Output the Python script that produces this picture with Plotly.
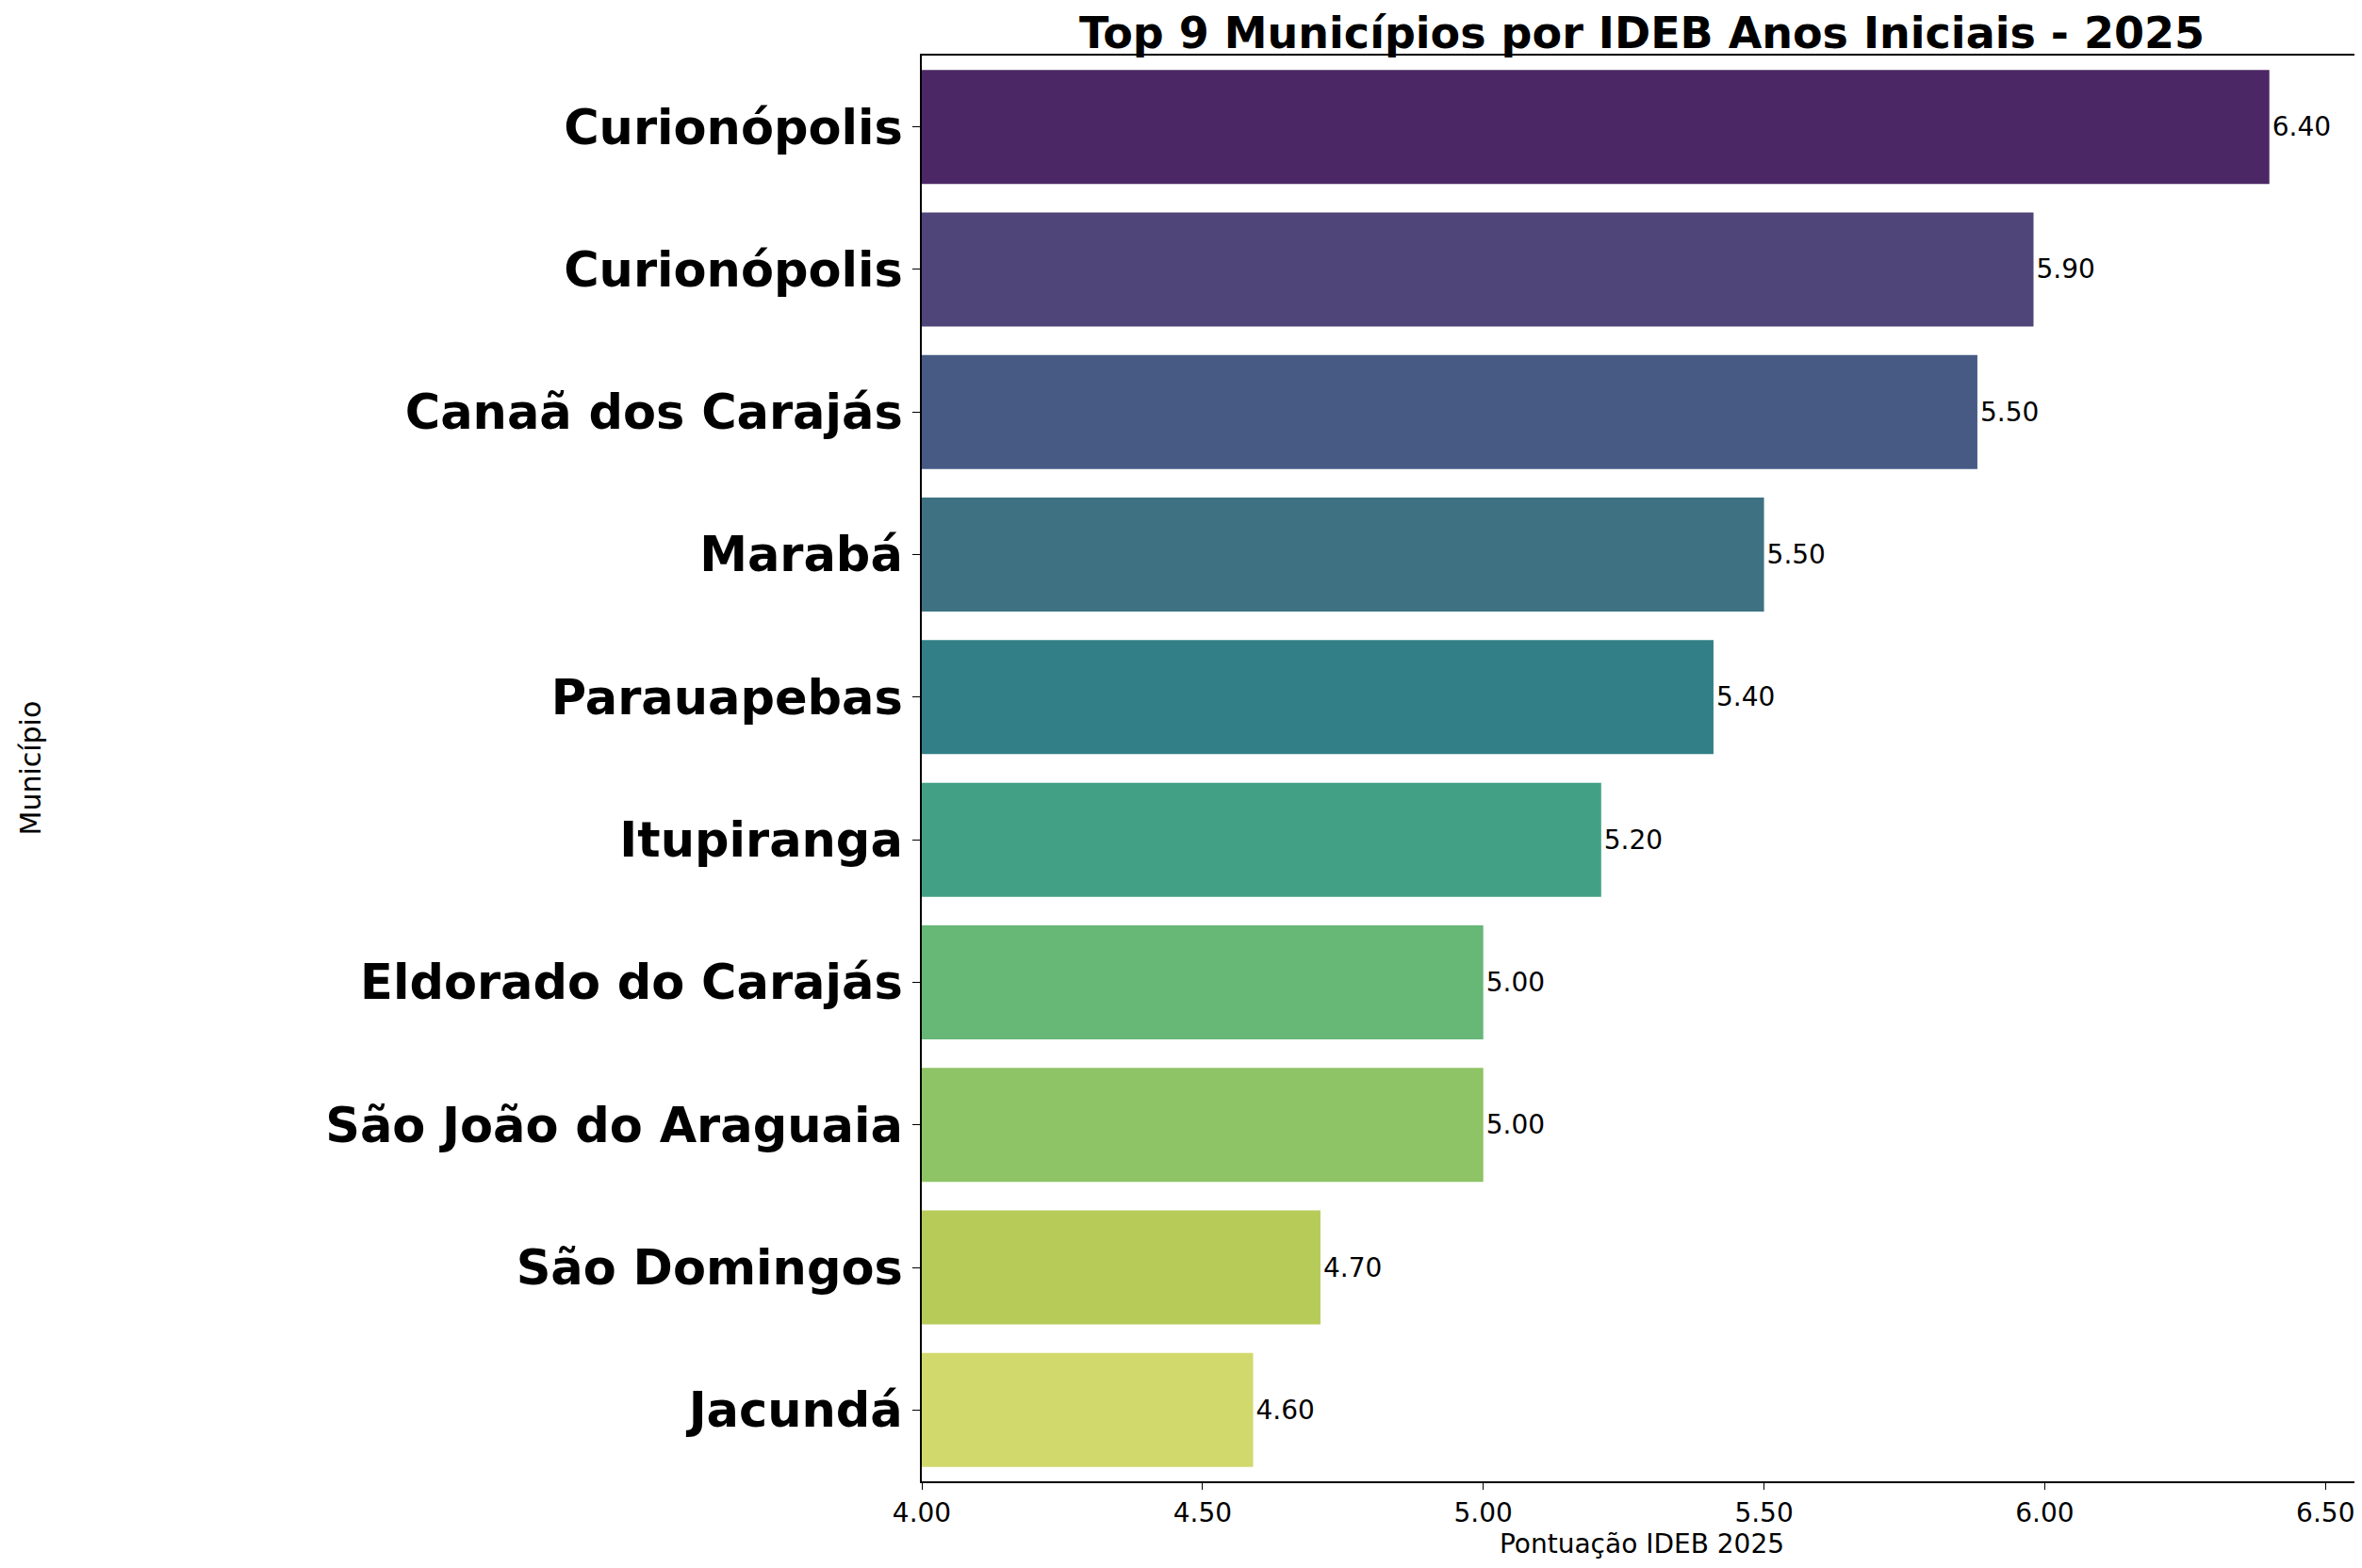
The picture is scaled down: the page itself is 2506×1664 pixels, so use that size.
import plotly.graph_objects as go

# data (top to bottom)
municipios = ['Curionópolis', 'Curionópolis', 'Canaã dos Carajás', 'Marabá',
              'Parauapebas', 'Itupiranga', 'Eldorado do Carajás',
              'São João do Araguaia', 'São Domingos', 'Jacundá']
ideb = [6.40, 5.98, 5.88, 5.50, 5.41, 5.21, 5.00, 5.00, 4.71, 4.59]
rotulos = ['6.40', '5.90', '5.50', '5.50', '5.40', '5.20', '5.00', '5.00', '4.70', '4.60']
cores = ['#4b2865', '#4f4579', '#465a84', '#3e7283', '#327f87',
         '#42a184', '#67b776', '#8ec366', '#b6cb58', '#d1d96c']

# the name repeats, so bars sit on positions and names go in as tick text
posicoes = list(range(len(municipios)))

# page body has an 8px margin, so the figure is a bit smaller than the window
W, H = 2498, 1648

fig = go.Figure(go.Bar(
    x=ideb,
    y=posicoes,
    orientation='h',
    width=0.8,
    marker=dict(color=cores, line=dict(width=0)),
    text=rotulos,
    textposition='outside',
    textfont=dict(family='DejaVu Sans', size=28, color='black'),
    cliponaxis=False,
    constraintext='none',
))

fig.update_layout(
    width=W, height=H,
    margin=dict(l=970, r=0, t=51, b=84),
    paper_bgcolor='white', plot_bgcolor='white',
    showlegend=False,
    title=dict(text='<b>Top 9 Municípios por IDEB Anos Iniciais - 2025</b>',
               font=dict(family='DejaVu Sans', size=46, color='black'),
               x=0.5, xref='paper', xanchor='center',
               y=1 - 27 / H, yref='container', yanchor='middle'),
    font=dict(family='DejaVu Sans', color='black'),
)

fig.update_xaxes(
    range=[4, 6.565],
    tickvals=[4.0, 4.5, 5.0, 5.5, 6.0, 6.5],
    tickformat='.2f',
    tickfont=dict(size=28),
    ticks='outside', ticklen=7, tickcolor='black',
    showline=True, linecolor='black', linewidth=2, mirror=True,
    showgrid=False, zeroline=False,
    title=dict(text='Pontuação IDEB 2025', font=dict(size=28), standoff=5),
)

fig.update_yaxes(
    range=[len(municipios) - 0.5, -0.5],
    tickvals=posicoes, ticktext=municipios,
    tickfont=dict(family='DejaVu Sans', size=51, weight='bold'),
    ticks='outside', ticklen=8, tickcolor='black',
    showline=True, linecolor='black', linewidth=2,
    showgrid=False, zeroline=False,
)

# y axis title placed by hand, far left of the tick names
fig.add_annotation(text='Município', textangle=-90,
                   x=(24 - 970) / (W - 970), xref='paper', xanchor='center',
                   y=0.5, yref='paper', yanchor='middle', showarrow=False,
                   font=dict(size=30, color='black'))

fig.write_html('out.html')
